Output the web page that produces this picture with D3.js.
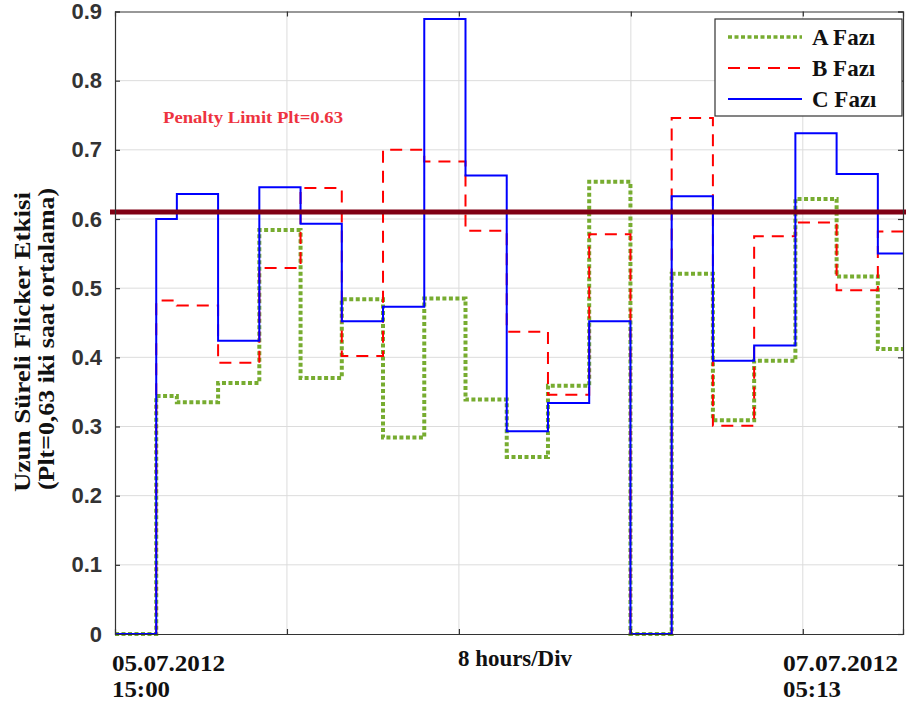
<!DOCTYPE html>
<html>
<head>
<meta charset="utf-8">
<script src="https://cdn.jsdelivr.net/npm/d3@7"></script>
<style>
  body { margin: 0; background: #fff; }
  svg { display: block; }
</style>
</head>
<body>
<div id="chart"></div>
<script>
// step boundaries in hours after 05.07.2012 15:00 (2-hour Plt averages)
const stepEdges = [0, 2, 3, 5, 7, 9, 11, 13, 15, 17, 19, 21, 23, 25, 27, 29, 31, 33, 35, 37, 38.22];
const phaseA = [0, 0.344, 0.335, 0.363, 0.584, 0.370, 0.484, 0.284, 0.485, 0.339, 0.256, 0.359, 0.654, 0, 0.521, 0.309, 0.395, 0.629, 0.517, 0.412];
const phaseB = [0, 0.482, 0.475, 0.392, 0.529, 0.645, 0.402, 0.700, 0.683, 0.583, 0.437, 0.346, 0.578, 0, 0.746, 0.301, 0.575, 0.595, 0.497, 0.582];
const phaseC = [0, 0.600, 0.636, 0.424, 0.646, 0.593, 0.452, 0.473, 0.889, 0.663, 0.293, 0.334, 0.452, 0, 0.633, 0.395, 0.417, 0.724, 0.665, 0.550];
const yTicks = [0, 0.1, 0.2, 0.3, 0.4, 0.5, 0.6, 0.7, 0.8, 0.9];
const xGrid = [8.34, 16.68, 25.02, 33.36];
const limit = 0.61;

const series = [
  { name: 'A Fazı', values: phaseA, color: '#77ac30', width: 4, dash: '4,2.5' },
  { name: 'B Fazı', values: phaseB, color: '#ff0000', width: 2, dash: '12,8' },
  { name: 'C Fazı', values: phaseC, color: '#0000ff', width: 2, dash: null },
];

const W = 906, H = 708;
const m = { left: 115, right: 3, top: 11.5, bottom: 74 };
const serif = 'Liberation Serif, Times New Roman, serif';

const svg = d3.select('#chart').append('svg')
  .attr('width', W).attr('height', H);

const x = d3.scaleLinear().domain([0, 38.22]).range([m.left, W - m.right]);
const y = d3.scaleLinear().domain([0, 0.9]).range([H - m.bottom, m.top]);

// grid
const grid = svg.append('g');
grid.selectAll('line.gy').data(yTicks.slice(1, -1)).enter().append('line')
  .attr('x1', x.range()[0]).attr('x2', x.range()[1])
  .attr('y1', d => y(d)).attr('y2', d => y(d))
  .attr('stroke', '#dcdcdc').attr('stroke-width', 1);
grid.selectAll('line.gx').data(xGrid).enter().append('line')
  .attr('x1', d => x(d)).attr('x2', d => x(d))
  .attr('y1', y.range()[0]).attr('y2', y.range()[1])
  .attr('stroke', '#dcdcdc').attr('stroke-width', 1);

// step lines
function stepPoints(vals) {
  const pts = [];
  vals.forEach((v, i) => {
    pts.push([stepEdges[i], v]);
    pts.push([stepEdges[i + 1], v]);
  });
  return pts;
}
const line = d3.line().x(d => x(d[0])).y(d => y(d[1]));

series.forEach(s => {
  svg.append('path')
    .attr('d', line(stepPoints(s.values)))
    .attr('fill', 'none')
    .attr('stroke', s.color)
    .attr('stroke-width', s.width)
    .attr('stroke-dasharray', s.dash)
    .attr('stroke-linejoin', 'miter');
});

// penalty limit line
svg.append('line')
  .attr('x1', x(0) - 5).attr('x2', W)
  .attr('y1', y(limit)).attr('y2', y(limit))
  .attr('stroke', '#800014').attr('stroke-width', 5);

svg.append('text')
  .attr('x', 163).attr('y', 123)
  .attr('font-family', serif)
  .attr('font-weight', 'bold').attr('font-size', 16.5)
  .attr('textLength', 180).attr('lengthAdjust', 'spacingAndGlyphs')
  .attr('fill', '#ee3340')
  .text('Penalty Limit Plt=0.63');

// axes frame
const yAxisL = d3.axisLeft(y).tickValues(yTicks).tickSize(-5).tickPadding(13)
  .tickFormat(d => d === 0 ? '0' : d3.format('.1f')(d));
const gL = svg.append('g').attr('transform', `translate(${x.range()[0]},0)`).call(yAxisL);
gL.selectAll('text')
  .attr('font-family', 'Liberation Sans, Arial, sans-serif')
  .attr('font-weight', 'bold').attr('font-size', 22).attr('fill', '#333');

const yAxisR = d3.axisRight(y).tickValues(yTicks).tickSize(-5).tickFormat('');
svg.append('g').attr('transform', `translate(${x.range()[1]},0)`).call(yAxisR);

const xAxisB = d3.axisBottom(x).tickValues(xGrid).tickSize(-5).tickFormat('');
svg.append('g').attr('transform', `translate(0,${y.range()[0]})`).call(xAxisB);
const xAxisT = d3.axisTop(x).tickValues(xGrid).tickSize(-5).tickFormat('');
svg.append('g').attr('transform', `translate(0,${y.range()[1]})`).call(xAxisT);

svg.selectAll('.domain, .tick line').attr('stroke', '#333').attr('stroke-width', 1.2);

// x labels
const xLabels = [
  { t: '05.07.2012', x: 112, y: 671, len: 113 },
  { t: '15:00', x: 112, y: 697, len: 58 },
  { t: '8 hours/Div', x: 458, y: 666, len: 114 },
  { t: '07.07.2012', x: 783, y: 671, len: 115 },
  { t: '05:13', x: 783, y: 697, len: 58 },
];
svg.selectAll('text.xl').data(xLabels).enter().append('text')
  .attr('x', d => d.x).attr('y', d => d.y)
  .attr('textLength', d => d.len).attr('lengthAdjust', 'spacingAndGlyphs')
  .attr('font-family', serif).attr('font-weight', 'bold').attr('font-size', 23)
  .attr('fill', '#111')
  .text(d => d.t);

// y label (rotated, two lines)
const yLabel = [
  { t: 'Uzun Süreli Flicker Etkisi', x: 30, y: 342, len: 300 },
  { t: '(Plt=0,63 iki saat ortalama)', x: 54, y: 339, len: 302 },
];
svg.selectAll('text.yl').data(yLabel).enter().append('text')
  .attr('transform', d => `translate(${d.x},${d.y}) rotate(-90)`)
  .attr('x', d => -d.len / 2).attr('y', 0)
  .attr('textLength', d => d.len).attr('lengthAdjust', 'spacingAndGlyphs')
  .attr('font-family', serif).attr('font-weight', 'bold').attr('font-size', 24)
  .attr('fill', '#111')
  .text(d => d.t);

// legend
const lg = svg.append('g');
lg.append('rect')
  .attr('x', 715).attr('y', 19).attr('width', 187).attr('height', 97)
  .attr('fill', '#fff').attr('stroke', '#333').attr('stroke-width', 1.2);
series.forEach((s, i) => {
  const ly = 37 + i * 31;
  lg.append('line')
    .attr('x1', 728).attr('x2', 802).attr('y1', ly).attr('y2', ly)
    .attr('stroke', s.color).attr('stroke-width', s.width === 4 ? 3.5 : 2.2)
    .attr('stroke-dasharray', s.dash);
  lg.append('text')
    .attr('x', 812).attr('y', ly + 8)
    .attr('font-family', serif).attr('font-weight', 'bold').attr('font-size', 23)
    .attr('fill', '#111')
    .text(s.name);
});
</script>
</body>
</html>
